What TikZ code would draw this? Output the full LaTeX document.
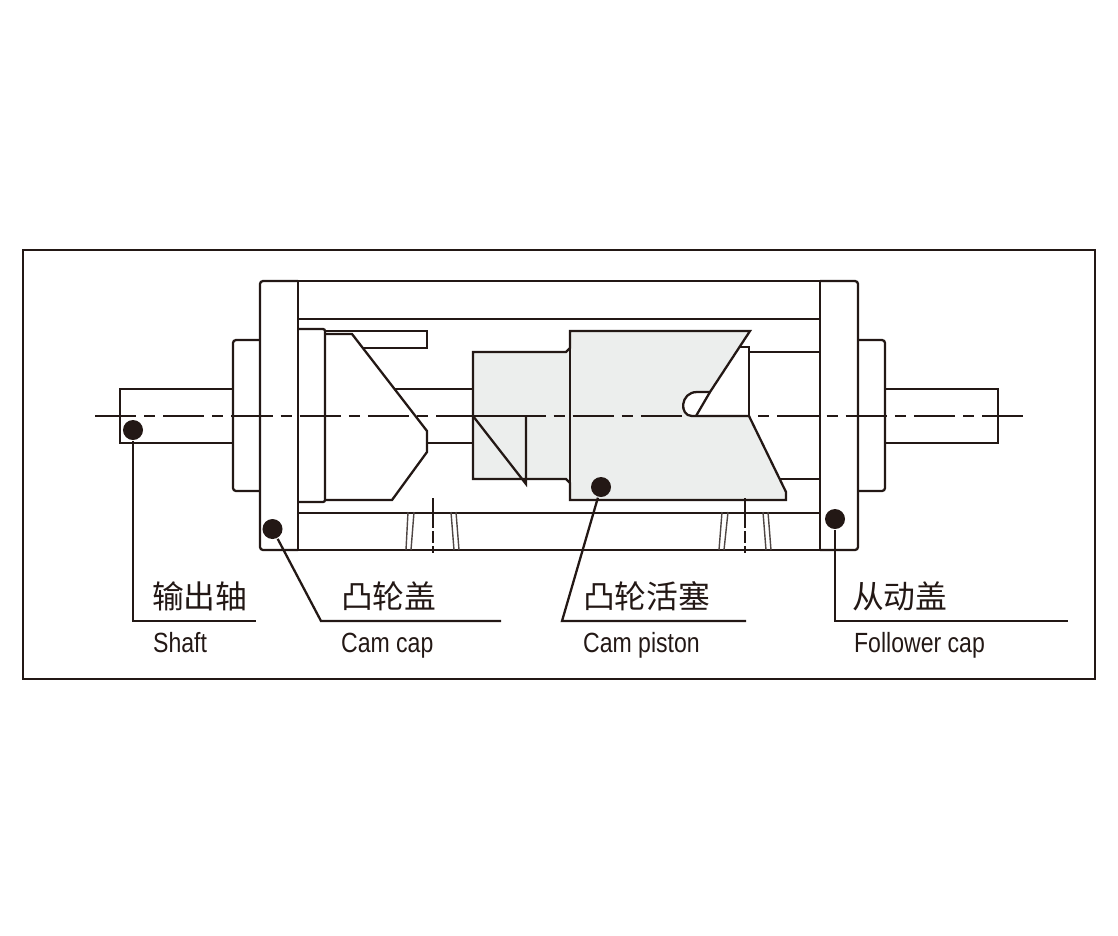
\documentclass[tikz,border=0pt]{standalone}
\usepackage{fontspec}
\setmainfont[FakeStretch=0.83]{Liberation Sans}
\newfontfamily\cjk{Noto Sans CJK SC}
\usepackage{xcolor}
\definecolor{inkBlack}{HTML}{231815}
\definecolor{pistonGray}{HTML}{ECEEED}

\begin{document}
\begin{tikzpicture}[x=0.01cm,y=-0.01cm,line width=0.65pt,draw=inkBlack,
    dot/.style={circle,fill=inkBlack,draw=none,inner sep=0pt,minimum size=0.2cm},
    bolt/.style={line width=0.4pt,draw=inkBlack!80},
    nameCn/.style={anchor=base west,inner sep=0pt,text=inkBlack,font=\cjk\fontsize{9.05}{9}\selectfont},
    nameEn/.style={anchor=base west,inner sep=0pt,text=inkBlack,font=\fontsize{7.9}{9}\selectfont}]
  \pgfmathsetmacro{\axisY}{416}
  \pgfmathsetmacro{\bodyTop}{281}
  \pgfmathsetmacro{\bodyBottom}{550}
  \pgfmathsetmacro{\labelLine}{621}
  \useasboundingbox (0,0) rectangle (1118,935);

  % Frame
  \draw (23,250) rectangle (1095,679);

  % Piston
  \draw[fill=pistonGray] (473,352) -- (566,352) -- (570,348) -- (570,331) -- (750,331) -- (710,392)
    -- (697,392) .. controls (680,392) and (679,416) .. (692,416)
    -- (749,416) -- (786,492) -- (786,500) -- (570,500) -- (570,483) -- (566,479) -- (473,479) -- cycle;
  \draw (570,348) -- (570,483);
  \draw (473,416) -- (526,484) -- (526,416);
  \draw (710,392) -- (696,416);
  \draw (739,347) -- (749,347) -- (749,416);

  % Housing
  \draw[rounded corners=0.03cm] (298,\bodyTop) -- (260,\bodyTop) -- (260,\bodyBottom) -- (298,\bodyBottom);
  \draw[rounded corners=0.03cm] (820,\bodyTop) -- (858,\bodyTop) -- (858,\bodyBottom) -- (820,\bodyBottom);
  \draw (298,\bodyTop) -- (820,\bodyTop);
  \draw (298,\bodyBottom) -- (820,\bodyBottom);
  \draw (298,\bodyTop) -- (298,\bodyBottom);
  \draw (820,\bodyTop) -- (820,\bodyBottom);
  \draw (298,319) -- (820,319);
  \draw (298,513) -- (820,513);

  % Flanges and shaft
  \draw[rounded corners=0.03cm] (260,340) -- (233,340) -- (233,491) -- (260,491);
  \draw[rounded corners=0.03cm] (858,340) -- (885,340) -- (885,491) -- (858,491);
  \draw (233,389) -- (120,389) -- (120,443) -- (233,443);
  \draw (885,389) -- (998,389) -- (998,443) -- (885,443);
  \draw (395,389) -- (473,389);
  \draw (427,443) -- (473,443);
  \draw (749,352) -- (820,352);
  \draw (780,479) -- (820,479);

  % Cam
  \draw[rounded corners=0.02cm] (298,329) -- (325,329) -- (325,502) -- (298,502);
  \draw (325,334) -- (352,334) -- (427,431) -- (427,452) -- (392,500) -- (325,500);
  \draw (325,331) -- (427,331) -- (427,348) -- (363,348);

  % Bolts
  \foreach \xa/\xb in {408/406,414/411,451/454,456/459,722/719,728/724,763/766,768/771}
    \draw[bolt] (\xa,512) -- (\xb,550);
  \foreach \xc in {433,745} {
    \draw (\xc,498) -- (\xc,528);
    \draw (\xc,531) -- (\xc,543);
    \draw (\xc,546) -- (\xc,553);
  }

  % Axis
  \draw[dash pattern=on 0.412cm off 0.08cm on 0.11cm off 0.08cm] (95,\axisY) -- (1023,\axisY);
  \draw (473,\axisY) -- (545,\axisY);
  \draw (692,\axisY) -- (749,\axisY);

  % Leaders
  \node[dot] (dotShaft) at (133,430) {};
  \node[dot] (dotCamCap) at (272.5,529) {};
  \node[dot] (dotPiston) at (601,487) {};
  \node[dot] (dotFollower) at (835,519) {};
  \coordinate (kneeShaft) at (133,\labelLine);
  \coordinate (endShaft) at (256,\labelLine);
  \coordinate (kneeCamCap) at (321,\labelLine);
  \coordinate (endCamCap) at (501,\labelLine);
  \coordinate (kneePiston) at (562,\labelLine);
  \coordinate (endPiston) at (746,\labelLine);
  \coordinate (kneeFollower) at (835,\labelLine);
  \coordinate (endFollower) at (1068,\labelLine);
  \draw (dotShaft) -- (kneeShaft) -- (endShaft);
  \draw (dotCamCap) -- (kneeCamCap) -- (endCamCap);
  \draw (dotPiston) -- (kneePiston) -- (endPiston);
  \draw (dotFollower) -- (kneeFollower) -- (endFollower);

  % Labels
  \node[nameCn] (cnShaft) at (151,608) {输出轴};
  \node[nameEn] (enShaft) at (152,652) {Shaft};
  \node[nameCn] (cnCamCap) at (340,608) {凸轮盖};
  \node[nameEn] (enCamCap) at (340,652) {Cam cap};
  \node[nameCn] (cnPiston) at (582,608) {凸轮活塞};
  \node[nameEn] (enPiston) at (582,652) {Cam piston};
  \node[nameCn] (cnFollower) at (851,608) {从动盖};
  \node[nameEn] (enFollower) at (853,652) {Follower cap};
\end{tikzpicture}
\end{document}
